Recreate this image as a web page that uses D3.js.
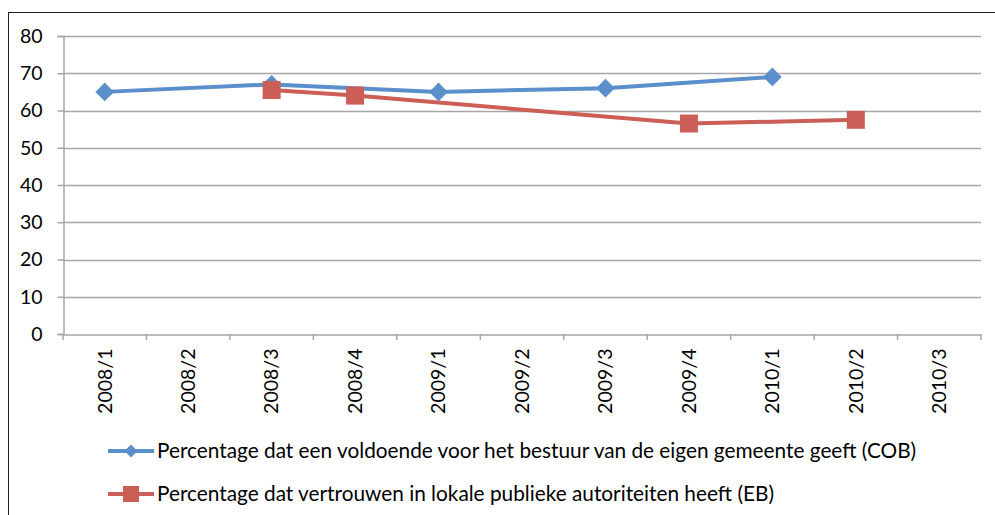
<!DOCTYPE html>
<html>
<head>
<meta charset="utf-8">
<script src="https://cdn.jsdelivr.net/npm/d3@7"></script>
<style>
  body { margin: 0; background: #fff; }
  svg { display: block; }
</style>
</head>
<body>
<div id="chart"></div>
<script>
var categories = ["2008/1", "2008/2", "2008/3", "2008/4", "2009/1", "2009/2",
                  "2009/3", "2009/4", "2010/1", "2010/2", "2010/3"];
var yTicks = [0, 10, 20, 30, 40, 50, 60, 70, 80];
var cobValues = [65, null, 67, null, 65, null, 66, null, 69, null, null];
var ebValues = [null, null, 65.5, 64, null, null, null, 56.5, null, 57.5, null];
var cobLabel = "Percentage dat een voldoende voor het bestuur van de eigen gemeente geeft (COB)";
var ebLabel = "Percentage dat vertrouwen in lokale publieke autoriteiten heeft (EB)";

var blue = "#5A8FCB", red = "#CC5E58";
var font = "Lato, 'Open Sans', sans-serif";

var width = 995, height = 515;
var margin = {left: 63, right: 14, top: 36, bottom: 181};
var w = width - margin.left - margin.right;
var h = height - margin.top - margin.bottom;

var root = d3.select("#chart").append("svg")
    .attr("width", width)
    .attr("height", height);

root.append("rect")
    .attr("x", 8.5).attr("y", 12.5)
    .attr("width", 1000).attr("height", 520)
    .style("fill", "none")
    .style("stroke", "#222")
    .style("stroke-width", 1);

var svg = root.append("g")
    .attr("transform", "translate(" + margin.left + "," + margin.top + ")");

var x = d3.scaleBand().domain(categories).range([0, w]);
var y = d3.scaleLinear().domain([0, 80]).range([h, 0]);

// gridlines
svg.append("g").selectAll("line")
    .data(yTicks.filter(function(d) { return d > 0; }))
    .enter()
    .append("line")
    .attr("x1", 0).attr("x2", w)
    .attr("y1", function(d) { return Math.round(y(d)) + 0.5; })
    .attr("y2", function(d) { return Math.round(y(d)) + 0.5; })
    .style("stroke", "#a6a6a6")
    .style("stroke-width", 1.5);

// y axis
var yAxis = svg.append("g")
    .attr("transform", "translate(0.5,0)")
    .call(d3.axisLeft(y).tickValues(yTicks).tickSize(6).tickPadding(15));
yAxis.select(".domain").style("stroke", "#a6a6a6").style("stroke-width", 1.5);
yAxis.selectAll(".tick line").style("stroke", "#a6a6a6").style("stroke-width", 1.5);
yAxis.selectAll(".tick text")
    .style("font-family", font)
    .style("font-size", "19.5px")
    .style("fill", "#000");

// x axis
var xAxis = svg.append("g")
    .attr("transform", "translate(0," + (Math.round(h) + 0.5) + ")")
    .call(d3.axisBottom(x).tickSize(0).tickPadding(0));
xAxis.select(".domain").style("stroke", "#a6a6a6").style("stroke-width", 1.5);
xAxis.selectAll(".tick text")
    .attr("transform", "rotate(-90)")
    .attr("x", -14)
    .attr("y", 0)
    .attr("dy", "0.35em")
    .style("text-anchor", "end")
    .style("font-family", font)
    .style("font-size", "19.5px")
    .style("fill", "#000");
svg.append("g").selectAll("line")
    .data(d3.range(categories.length + 1))
    .enter()
    .append("line")
    .attr("x1", function(i) { return i * x.step(); })
    .attr("x2", function(i) { return i * x.step(); })
    .attr("y1", h).attr("y2", h + 6)
    .style("stroke", "#a6a6a6")
    .style("stroke-width", 1.5);

function seriesPoints(values) {
    return categories.map(function(c, i) {
        return {cat: c, value: values[i]};
    }).filter(function(d) { return d.value !== null; });
}

var line = d3.line()
    .x(function(d) { return x(d.cat) + x.bandwidth() / 2; })
    .y(function(d) { return y(d.value); });

var cobData = seriesPoints(cobValues);
var ebData = seriesPoints(ebValues);

svg.append("path")
    .datum(cobData)
    .attr("d", line)
    .style("fill", "none")
    .style("stroke", blue)
    .style("stroke-width", 4);

svg.append("g").selectAll("path")
    .data(cobData)
    .enter()
    .append("path")
    .attr("d", d3.symbol().type(d3.symbolSquare).size(175))
    .attr("transform", function(d) {
        return "translate(" + (x(d.cat) + x.bandwidth() / 2) + "," + y(d.value) + ") rotate(45)";
    })
    .style("fill", blue);

svg.append("path")
    .datum(ebData)
    .attr("d", line)
    .style("fill", "none")
    .style("stroke", red)
    .style("stroke-width", 4);

svg.append("g").selectAll("rect")
    .data(ebData)
    .enter()
    .append("rect")
    .attr("width", 18).attr("height", 18)
    .attr("x", function(d) { return x(d.cat) + x.bandwidth() / 2 - 9; })
    .attr("y", function(d) { return y(d.value) - 9; })
    .style("fill", red);

// legend
var legend = root.append("g");
var items = [
    {label: cobLabel, color: blue, marker: "diamond", y: 451},
    {label: ebLabel, color: red, marker: "square", y: 494}
];
items.forEach(function(it) {
    var g = legend.append("g").attr("transform", "translate(108," + it.y + ")");
    g.append("line")
        .attr("x1", 0).attr("x2", 46)
        .attr("y1", 0).attr("y2", 0)
        .style("stroke", it.color)
        .style("stroke-width", 4);
    if (it.marker === "diamond") {
        g.append("path")
            .attr("d", d3.symbol().type(d3.symbolSquare).size(85))
            .attr("transform", "translate(23,0) rotate(45)")
            .style("fill", it.color);
    } else {
        g.append("rect")
            .attr("x", 15).attr("y", -8)
            .attr("width", 16).attr("height", 16)
            .style("fill", it.color);
    }
    g.append("text")
        .attr("x", 49)
        .attr("y", 0)
        .attr("dy", "0.35em")
        .style("font-family", font)
        .style("font-size", "20.8px")
        .style("fill", "#000")
        .text(it.label);
});
</script>
</body>
</html>
